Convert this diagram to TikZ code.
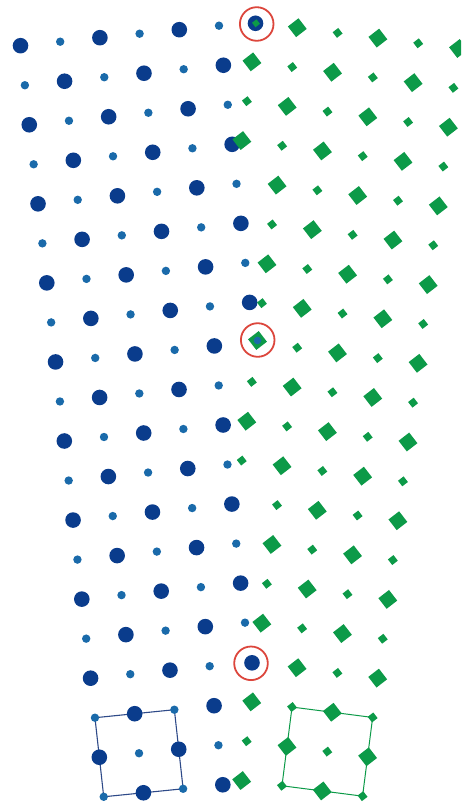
\documentclass[tikz,border=0pt]{standalone}
\definecolor{bbig}{HTML}{0A3C8C}
\definecolor{bsmall}{HTML}{1A6AAA}
\definecolor{grn}{HTML}{0C9A48}
\definecolor{ring}{HTML}{DC463C}
\definecolor{cellb}{HTML}{2E4A88}
\begin{document}
\begin{tikzpicture}[x=1pt,y=-1pt,
  bigb/.style={fill=bbig},
  smallb/.style={fill=bsmall},
  gd/.style={fill=grn},
  ringc/.style={draw=ring,line width=1.8pt},
  cellB/.style={draw=cellb,line width=1.1pt},
  cellG/.style={draw=grn,line width=1pt}]
\useasboundingbox (0,0) rectangle (461,802);
\clip (0,0) rectangle (461,802);

% unit cells
\coordinate (b1) at (94.96,717.71);
\coordinate (b2) at (174.36,709.71);
\coordinate (b3) at (183.12,788.77);
\coordinate (b4) at (103.72,796.77);
\draw[cellB] (b1) -- (b2) -- (b3) -- (b4) -- cycle;
\coordinate (g1) at (292.05,707.05);
\coordinate (g2) at (372.65,717.45);
\coordinate (g3) at (362.55,796.15);
\coordinate (g4) at (281.95,785.75);
\draw[cellG] (g1) -- (g2) -- (g3) -- (g4) -- cycle;

% blue lattice
\foreach \j in {0,...,19}{
  \pgfmathtruncatemacro\imax{floor((48-\j)/8)}
  \foreach \i in {0,...,\imax}{
    \pgfmathtruncatemacro\cs{8*\i+\j}
    \ifnum\cs<48
      \pgfmathsetmacro\px{20.5+39.7*\i+4.38*\j}
      \pgfmathsetmacro\py{45.7-4.0*\i+39.53*\j}
      \pgfmathtruncatemacro\parb{mod(\i+\j,2)}
      \ifnum\parb=0
        \fill[bigb] (\px,\py) circle[radius=7.8pt];
      \else
        \fill[smallb] (\px,\py) circle[radius=4.2pt];
      \fi
    \fi
  }
}

% green lattice
\foreach \q in {0,...,19}{
  \pgfmathtruncatemacro\pmin{floor((\q+4)/8)}
  \foreach \p in {\pmin,...,5}{
    \pgfmathtruncatemacro\cs{8*\p-\q}
    \ifnum\cs=0 \else
      \pgfmathsetmacro\px{257+40.3*\p-5.05*\q}
      \pgfmathsetmacro\py{22.5+5.2*\p+39.35*\q}
      \pgfmathtruncatemacro\parb{mod(\p+\q,2)}
      \ifnum\parb=1 \def\rr{9.5}\else\def\rr{5}\fi
      \fill[gd,shift={(\px,\py)},rotate=-7.3] (\rr,0) -- (0,\rr) -- (-\rr,0) -- (0,-\rr) -- cycle;
    \fi
  }
}

% coincidence sites
\fill[bigb] (255.5,23.3) circle[radius=7.8pt];
\fill[gd,shift={(256,23.3)},rotate=-7.3] (4,0) -- (0,4) -- (-4,0) -- (0,-4) -- cycle;
\draw[ringc] (256.7,24) circle[radius=16.8pt];

\fill[gd,shift={(257.5,340.5)},rotate=-7.3] (9.5,0) -- (0,9.5) -- (-9.5,0) -- (0,-9.5) -- cycle;
\fill[smallb] (257.5,340.5) circle[radius=3.8pt];
\draw[ringc] (257.7,340) circle[radius=16.8pt];

\fill[bigb] (252,662.8) circle[radius=7.8pt];
\draw[ringc] (251,663.3) circle[radius=16.8pt];
\end{tikzpicture}
\end{document}
